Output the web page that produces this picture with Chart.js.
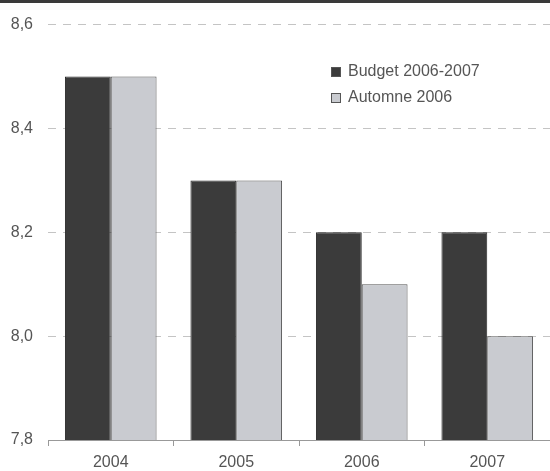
<!DOCTYPE html>
<html>
<head>
<meta charset="utf-8">
<script src="https://cdn.jsdelivr.net/npm/chart.js@4"></script>
<style>
  html, body { margin: 0; padding: 0; background: #fff; }
  #wrap { position: relative; width: 550px; height: 471px; }
  #topbar { position: absolute; left: 0; top: 0; width: 550px; height: 3px; background: #3a3a3a; }
</style>
</head>
<body>
<div id="wrap">
  <canvas id="chart" width="550" height="471"></canvas>
  <div id="topbar"></div>
</div>
<script>
const years = ['2004', '2005', '2006', '2007'];
const budget = [8.5, 8.3, 8.2, 8.2];
const automne = [8.5, 8.3, 8.1, 8.0];
const seriesNames = ['Budget 2006-2007', 'Automne 2006'];

const fontFam = '"Liberation Sans", Arial, sans-serif';

// legend drawn inside the plot, top right
const innerLegend = {
  id: 'innerLegend',
  afterDraw(chart) {
    const c = chart.ctx;
    const x = 331, ys = [72, 98];
    c.save();
    c.font = '16px ' + fontFam;
    c.textBaseline = 'middle';
    chart.data.datasets.forEach((ds, i) => {
      c.fillStyle = ds.backgroundColor;
      c.fillRect(x, ys[i] - 5, 10, 10);
      c.strokeStyle = '#555';
      c.lineWidth = 1;
      c.strokeRect(x + 0.5, ys[i] - 4.5, 9, 9);
      c.fillStyle = '#555';
      c.fillText(ds.label, x + 17, ys[i]);
    });
    c.restore();
  }
};

new Chart(document.getElementById('chart'), {
  type: 'bar',
  data: {
    labels: years,
    datasets: [{
      label: seriesNames[0],
      data: budget,
      backgroundColor: '#3b3b3b',
      borderColor: '#2a2a2a',
      borderWidth: 1
    }, {
      label: seriesNames[1],
      data: automne,
      backgroundColor: '#c9cbd0',
      borderColor: '#555',
      borderWidth: 1
    }]
  },
  options: {
    responsive: false,
    animation: false,
    layout: { padding: { top: 20, right: 0, left: 0, bottom: 0 } },
    datasets: { bar: { categoryPercentage: 0.73, barPercentage: 1 } },
    plugins: { legend: { display: false }, tooltip: { enabled: false } },
    scales: {
      x: {
        afterFit: s => { s.height = 31; },
        grid: { offset: true, drawOnChartArea: false, drawTicks: true, tickLength: 6, color: '#999' },
        border: { display: true, color: '#999' },
        ticks: { color: '#555', font: { size: 16, family: fontFam }, padding: 7 }
      },
      y: {
        min: 7.8,
        max: 8.6,
        afterFit: s => { s.width = 48; },
        grid: { color: '#c4c4c4', drawTicks: false },
        border: { display: false, dash: [8, 7] },
        ticks: {
          stepSize: 0.2,
          padding: 15,
          color: '#555',
          font: { size: 16, family: fontFam },
          callback: v => v.toFixed(1).replace('.', ',')
        }
      }
    }
  },
  plugins: [innerLegend]
});
</script>
</body>
</html>
